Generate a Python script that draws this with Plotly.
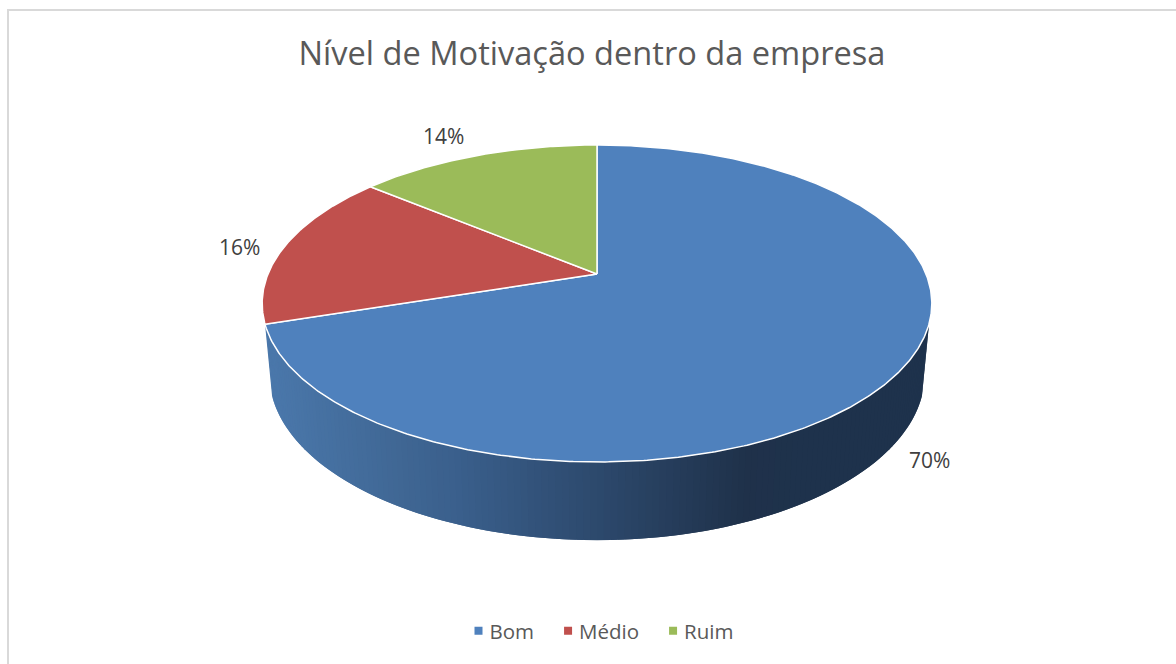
import numpy as np
import plotly.graph_objects as go

# ---- data ----
categories = ["Bom", "Médio", "Ruim"]
values = [70, 16, 14]
title_text = "Nível de Motivação dentro da empresa"

# ---- style / layout ----
colors = ["#4f81bd", "#c0504d", "#9bbb59"]
FONT = "Open Sans"
CX, CY = 597.0, 274.0      # pie apex on the page
A, B, K = 329.0, 153.0, 0.186   # top-face projection
A2, B2, CY2 = 322.0, 160.0, 343.6   # bottom-face projection
WALL_FROM, WALL_TO = 108.0, 252.0
label_pos = [(929, 460), (239, 247), (443, 136)]
grad_x = [270, 400, 450, 597, 740, 800]
grad_rgb = [(74, 119, 170), (63, 102, 147), (58, 95, 140), (44, 72, 107), (31, 49, 74), (30, 50, 76)]


def top_face(deg):
    t = np.radians(deg)
    u, v = np.sin(t), np.cos(t)
    w = 1 + K * v
    return CX + A * u / w, CY - B * v / w


def bottom_face(deg):
    t = np.radians(deg)
    u, v = np.sin(t), np.cos(t)
    w = 1 + K * v
    return CX + A2 * u / w, CY2 - B2 * v / w


def wall_color(x):
    c = [np.interp(x, grad_x, [g[i] for g in grad_rgb]) for i in range(3)]
    return "rgb(%d,%d,%d)" % tuple(round(q) for q in c)


fig = go.Figure()

# side wall as narrow overlapping strips, shaded right to left
edges = np.linspace(WALL_FROM, WALL_TO, 145)
for a0, a1 in zip(edges[:-1], edges[1:]):
    # each strip reaches back under the previous one so no seams show
    arc = np.array([max(a0 - 1.0, WALL_FROM), a0, a1])
    xt, yt = top_face(arc)
    xb, yb = bottom_face(arc[::-1])
    xs = np.r_[xt, xb, xt[0]]
    ys = np.r_[yt, yb, yt[0]]
    col = wall_color(np.mean(top_face(np.array([a0, a1]))[0]))
    fig.add_trace(go.Scatter(x=xs, y=ys, mode="lines", fill="toself", fillcolor=col,
                             line=dict(color=col, width=0), hoverinfo="skip", showlegend=False))

# top-face slices
total = sum(values)
start = 0.0
for val, col, name in zip(values, colors, categories):
    sweep = 360.0 * val / total
    ang = np.linspace(start, start + sweep, max(int(sweep * 2), 8))
    xa, ya = top_face(ang)
    xs = np.r_[CX, xa, CX]
    ys = np.r_[CY, ya, CY]
    fig.add_trace(go.Scatter(x=xs, y=ys, mode="lines", fill="toself", fillcolor=col,
                             line=dict(color="#ffffff", width=1.5), hoverinfo="skip", showlegend=False))
    start += sweep

# legend entries
for col, name in zip(colors, categories):
    fig.add_trace(go.Scatter(x=[None], y=[None], mode="markers", name=name,
                             marker=dict(symbol="square", size=8, color=col)))

annotations = [
    dict(x=px, y=py, xref="x", yref="y", text=f"{v}%", showarrow=False,
         font=dict(family=FONT, size=21, color="#404040"))
    for v, (px, py) in zip(values, label_pos)
]

fig.update_layout(
    width=1176, height=664,
    margin=dict(l=0, r=0, t=0, b=0),
    paper_bgcolor="#ffffff", plot_bgcolor="#ffffff",
    title=dict(text=title_text, x=592 / 1176, xanchor="center", y=1 - 54 / 664, yanchor="middle",
               font=dict(family=FONT, size=32.6, color="#595959")),
    xaxis=dict(range=[0, 1176], visible=False, fixedrange=True),
    yaxis=dict(range=[664, 0], visible=False, fixedrange=True),
    showlegend=True,
    legend=dict(orientation="h", x=603 / 1176, xanchor="center", y=1 - 631 / 664, yanchor="middle",
                font=dict(family=FONT, size=20.5, color="#595959"), bgcolor="rgba(0,0,0,0)",
                itemsizing="trace", traceorder="normal"),
    annotations=annotations,
    shapes=[dict(type="rect", xref="x", yref="y", x0=8, y0=10, x1=1300, y1=800,
                 line=dict(color="#d9d9d9", width=2), fillcolor="rgba(0,0,0,0)", layer="below")],
)

fig.write_html("out.html", config={"displayModeBar": False},
               post_script="document.body.style.margin='0';document.body.style.overflow='hidden';"
                           "document.querySelectorAll('.legendtext').forEach(function(t){"
                           "t.setAttribute('x', parseFloat(t.getAttribute('x')) - 9);});")
